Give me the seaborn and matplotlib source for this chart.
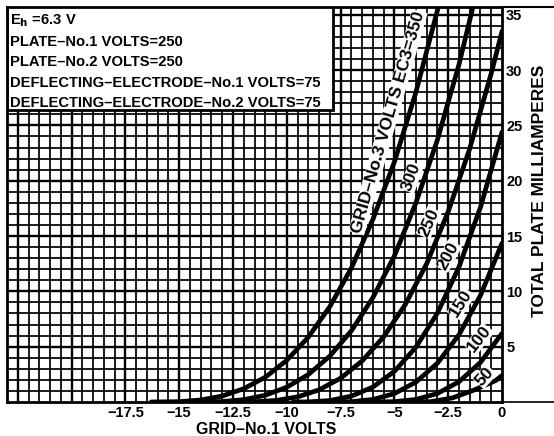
import numpy as np
import pandas as pd
import matplotlib
matplotlib.use('Agg')
import matplotlib.pyplot as plt
import seaborn as sns
from matplotlib.patches import Rectangle
from matplotlib.lines import Line2D

sns.set_style('white')
plt.rcParams['font.family'] = ['Liberation Sans', 'DejaVu Sans']
plt.rcParams['font.weight'] = 'bold'
plt.rcParams['text.color'] = 'black'
plt.rcParams['xtick.color'] = 'black'
plt.rcParams['ytick.color'] = 'black'

# grid-No.1 volts / total plate mA, one curve per grid-No.3 voltage
v_350 = [-16.3, -15, -14, -13, -12, -11, -10, -9, -8, -7, -6, -5, -4, -3, -2.5]
i_350 = [0, 0.03, 0.18, 0.54, 1.2, 2.24, 3.77, 5.86, 8.62, 12.1, 16.5, 21.7, 28.0, 35.4, 39.6]
v_300 = [-14.35, -13, -12, -11, -10, -9, -8, -7, -6, -5, -4, -3, -2, -1]
i_300 = [0, 0.04, 0.21, 0.61, 1.34, 2.48, 4.15, 6.43, 9.43, 13.2, 18.0, 23.7, 30.5, 38.5]
v_250 = [-12.5, -11.5, -10.5, -9.5, -8.5, -7.5, -6.5, -5.5, -4.5, -3.5, -2.5, -1.5, -0.5, 0]
i_250 = [0, 0.02, 0.14, 0.46, 1.1, 2.15, 3.71, 5.89, 8.79, 12.5, 17.2, 22.9, 29.7, 33.5]
v_200 = [-9.7, -9, -8, -7, -6, -5, -4, -3, -2, -1, 0]
i_200 = [0, 0.01, 0.13, 0.53, 1.35, 2.77, 4.95, 8.04, 12.2, 17.6, 24.4]
v_150 = [-8, -7, -6, -5, -4, -3, -2, -1, 0]
i_150 = [0, 0.03, 0.23, 0.76, 1.8, 3.51, 6.07, 9.64, 14.35]
v_100 = [-6, -5, -4, -3, -2, -1, 0]
i_100 = [0, 0.03, 0.23, 0.77, 1.83, 3.58, 6.2]
v_50 = [-4.3, -3.3, -2.3, -1.3, -0.3, 0]
i_50 = [0, 0.03, 0.37, 1.08, 1.93, 2.39]

curves = {350: (v_350, i_350), 300: (v_300, i_300), 250: (v_250, i_250),
          200: (v_200, i_200), 150: (v_150, i_150), 100: (v_100, i_100), 50: (v_50, i_50)}
df = pd.concat([pd.DataFrame({'eg1': v, 'ib': i, 'ec3': k}) for k, (v, i) in curves.items()])

x_ticks = [-17.5, -15, -12.5, -10, -7.5, -5, -2.5, 0]
x_labels = ['\u221217.5', '\u221215', '\u221212.5', '\u221210', '\u22127.5', '\u22125', '\u22122.5', '0']
y_ticks = [5, 10, 15, 20, 25, 30, 35]

# curve labels: text, x, y, rotation
curve_labels = [('300', -4.2, 20.3, 70), ('250', -3.4, 16.2, 66), ('200', -2.5, 13.2, 62),
                ('150', -1.9, 8.9, 58), ('100', -1.05, 5.7, 52), ('50', -0.8, 2.3, 48)]

fig = plt.figure(figsize=(5.54, 4.36), dpi=100)
ax = fig.add_axes([7/554, 34/436, 495/554, 395/436])
ax.set_xlim(-23, 0)
ax.set_ylim(0, 35.7)

# graph-paper grid
for xv in np.arange(-22.5, 0, 0.5):
    heavy = abs(xv / 2.5 - round(xv / 2.5)) < 1e-6
    ax.axvline(xv, color='black', lw=1.7 if heavy else 1.25, zorder=1)
for yv in np.arange(1, 36, 1):
    ax.axhline(yv, color='black', lw=1.7 if yv % 5 == 0 else 1.25, zorder=1)

sns.lineplot(data=df, x='eg1', y='ib', units='ec3', estimator=None, sort=False,
             color='black', lw=3.4, ax=ax, zorder=3)

# condition box
ax.add_patch(Rectangle((-23, 26.4), 15.14, 10, facecolor='white', edgecolor='black',
                       lw=2, zorder=4, clip_on=True))
notes = ['E$_\\mathbf{h}$ =6.3 V', 'PLATE\u2013No.1 VOLTS=250', 'PLATE\u2013No.2 VOLTS=250',
         'DEFLECTING\u2013ELECTRODE\u2013No.1 VOLTS=75', 'DEFLECTING\u2013ELECTRODE\u2013No.2 VOLTS=75']
for k, t in enumerate(notes):
    fig.text(10/554, 1 - (21 + k * 20.5)/436, t, fontsize=10.6, fontweight='bold', va='center', ha='left', zorder=6)

ax.text(-5.3, 25.3, 'GRID\u2013No.3 VOLTS EC3=350', rotation=74, fontsize=12.5, fontweight='bold',
        ha='center', va='center', zorder=5,
        bbox=dict(facecolor='white', edgecolor='none', pad=0.5))
for t, xv, yv, r in curve_labels:
    ax.text(xv, yv, t, rotation=r, fontsize=12.5, fontweight='bold', ha='center', va='center', zorder=5,
            bbox=dict(facecolor='white', edgecolor='none', pad=0.3))

ax.set_xticks(x_ticks)
ax.set_xticklabels(x_labels, fontsize=10.5, fontweight='bold')
ax.yaxis.tick_right()
ax.set_yticks(y_ticks)
ax.set_yticklabels([str(v) for v in y_ticks], fontsize=10.5, fontweight='bold')
ax.tick_params(length=0, pad=3)
ax.set_xlabel('')
ax.set_ylabel('')
for s in ax.spines.values():
    s.set_linewidth(2)
    s.set_color('black')
    s.set_zorder(6)

fig.text(266/554, 1 - 429/436, 'GRID\u2013No.1 VOLTS', fontsize=11.5, fontweight='bold', ha='center', va='center')
fig.text(540/554, 1 - 191/436, 'TOTAL PLATE MILLIAMPERES', fontsize=12.5, fontweight='bold',
         rotation=90, ha='center', va='center')

# frame lines running on to the right edge
fig.add_artist(Line2D([502/554, 1], [1 - 7/436, 1 - 7/436], color='black', lw=1.5))
fig.add_artist(Line2D([502/554, 1], [34/436, 34/436], color='black', lw=1.2))

fig.savefig('out.png', dpi=100)
